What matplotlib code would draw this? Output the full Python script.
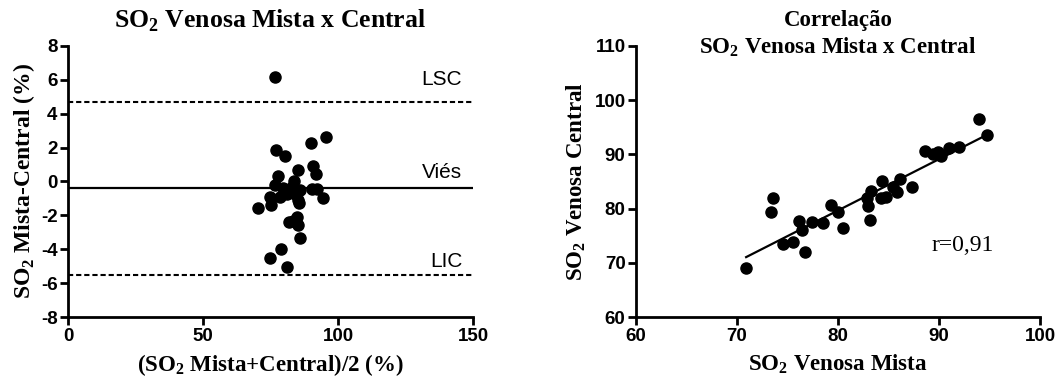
import numpy as np
import matplotlib
matplotlib.use('Agg')
import matplotlib.pyplot as plt

plt.rcParams['mathtext.fontset'] = 'custom'
plt.rcParams['mathtext.rm'] = 'Liberation Serif:bold'
plt.rcParams['mathtext.bf'] = 'Liberation Serif:bold'
plt.rcParams['axes.unicode_minus'] = False

# Bland-Altman: media x diferenca
ba_media = [76.8, 95.5, 90.0, 77.0, 80.3, 85.2, 90.6, 91.7, 77.8, 83.8,
            76.5, 79.8, 82.5, 85.8, 90.5, 92.4, 78.6, 84.0, 85.2, 74.7,
            94.6, 75.2, 85.4, 70.4, 82.0, 84.8, 85.2, 83.5, 86.1, 79.0,
            74.8, 81.1, 81.0, 83.0]
ba_dif = [6.15, 2.62, 2.25, 1.85, 1.52, 0.65, 0.92, 0.43, 0.35, 0.02,
          -0.2, -0.4, -0.6, -0.5, -0.42, -0.45, -0.9, -0.72, -1.1, -0.92,
          -0.97, -1.4, -1.28, -1.56, -2.4, -2.07, -2.58, -2.32, -3.3, -3.98,
          -4.49, -5.02, -0.75, -0.35]
vies = -0.4
lsc = 4.7
lic = -5.5

# correlacao
so2_mista = [70.9, 73.6, 73.4, 74.6, 75.5, 76.1, 76.4, 76.7, 77.4, 78.5,
             79.3, 80.0, 80.5, 83.0, 83.2, 83.3, 82.9, 84.4, 84.3, 84.7,
             85.4, 85.8, 86.1, 87.3, 88.6, 89.4, 89.9, 90.2, 91.0, 92.0,
             94.0, 94.7]
so2_central = [69.1, 82.0, 79.3, 73.5, 73.9, 77.8, 76.1, 72.0, 77.5, 77.3,
               80.7, 79.3, 76.4, 80.4, 77.9, 83.3, 81.9, 85.1, 81.9, 82.2,
               84.0, 83.0, 85.4, 83.9, 90.7, 90.0, 90.5, 89.7, 91.2, 91.4,
               96.5, 93.5]
r_txt = 'r=0,91'

serif = 'Liberation Serif'
sans = 'Liberation Sans'

fig = plt.figure(figsize=(10.59, 3.82), dpi=100)
ax1 = fig.add_axes([0.0642, 0.1694, 0.3824, 0.711])
ax2 = fig.add_axes([0.6006, 0.1694, 0.3815, 0.711])

for ax in (ax1, ax2):
    for s in ('top', 'right'):
        ax.spines[s].set_visible(False)
    for s in ('left', 'bottom'):
        ax.spines[s].set_linewidth(2)
    ax.tick_params(direction='out', length=6, width=2, pad=1.5)

# painel esquerdo
ax1.scatter(ba_media, ba_dif, s=64, color='black', zorder=3, clip_on=False)
ax1.axhline(vies, color='black', lw=1.6)
ax1.axhline(lsc, color='black', lw=1.5, ls=(0, (2.5, 1.4)))
ax1.axhline(lic, color='black', lw=1.5, ls=(0, (2.5, 1.4)))
ax1.text(146, 6.0, 'LSC', ha='right', va='center', family=sans, fontsize=15)
ax1.text(146, 0.55, 'Viés', ha='right', va='center', family=sans, fontsize=15)
ax1.text(146, -4.7, 'LIC', ha='right', va='center', family=sans, fontsize=15)
ax1.set_xlim(0, 150)
ax1.set_ylim(-8, 8)
ax1.set_xticks([0, 50, 100, 150])
ax1.set_yticks(np.arange(-8, 9, 2))
fig.text(0.255, 0.946, r'SO$_\mathbf{2}$ Venosa Mista x Central', family=serif,
         fontweight='bold', fontsize=18.5, ha='center', va='center')
ax1.set_xlabel(r'(SO$_\mathbf{2}$ Mista+Central)/2 (%)', family=serif,
               fontweight='bold', fontsize=16.5, labelpad=5)
ax1.set_ylabel(r'SO$_\mathbf{2}$ Mista-Central (%)', family=serif,
               fontweight='bold', fontsize=17, labelpad=3)

# painel direito
ax2.scatter(so2_mista, so2_central, s=64, color='black', zorder=3)
coef = np.polyfit(so2_mista, so2_central, 1)
xr = np.array([min(so2_mista), max(so2_mista)])
ax2.plot(xr, np.polyval(coef, xr), color='black', lw=1.6)
ax2.text(92.3, 73.3, r_txt, ha='center', va='center', family=serif, fontsize=17)
ax2.set_xlim(60, 100)
ax2.set_ylim(60, 110)
ax2.set_xticks(np.arange(60, 101, 10))
ax2.set_yticks(np.arange(60, 111, 10))
fig.text(0.7913, 0.946, 'Correlação', family=serif, fontweight='bold',
         fontsize=16.5, ha='center', va='center')
fig.text(0.7913, 0.876, r'SO$_\mathbf{2}$ Venosa Mista x Central', family=serif,
         fontweight='bold', fontsize=16.5, ha='center', va='center')
ax2.set_xlabel(r'SO$_\mathbf{2}$ Venosa Mista', family=serif,
               fontweight='bold', fontsize=16.5, labelpad=5)
ax2.set_ylabel(r'SO$_\mathbf{2}$ Venosa Central', family=serif,
               fontweight='bold', fontsize=16.5, labelpad=5)

for ax in (ax1, ax2):
    for lab in ax.get_xticklabels() + ax.get_yticklabels():
        lab.set_fontfamily(sans)
        lab.set_fontweight('bold')
        lab.set_fontsize(13.5)

fig.savefig('out.png', dpi=100)
